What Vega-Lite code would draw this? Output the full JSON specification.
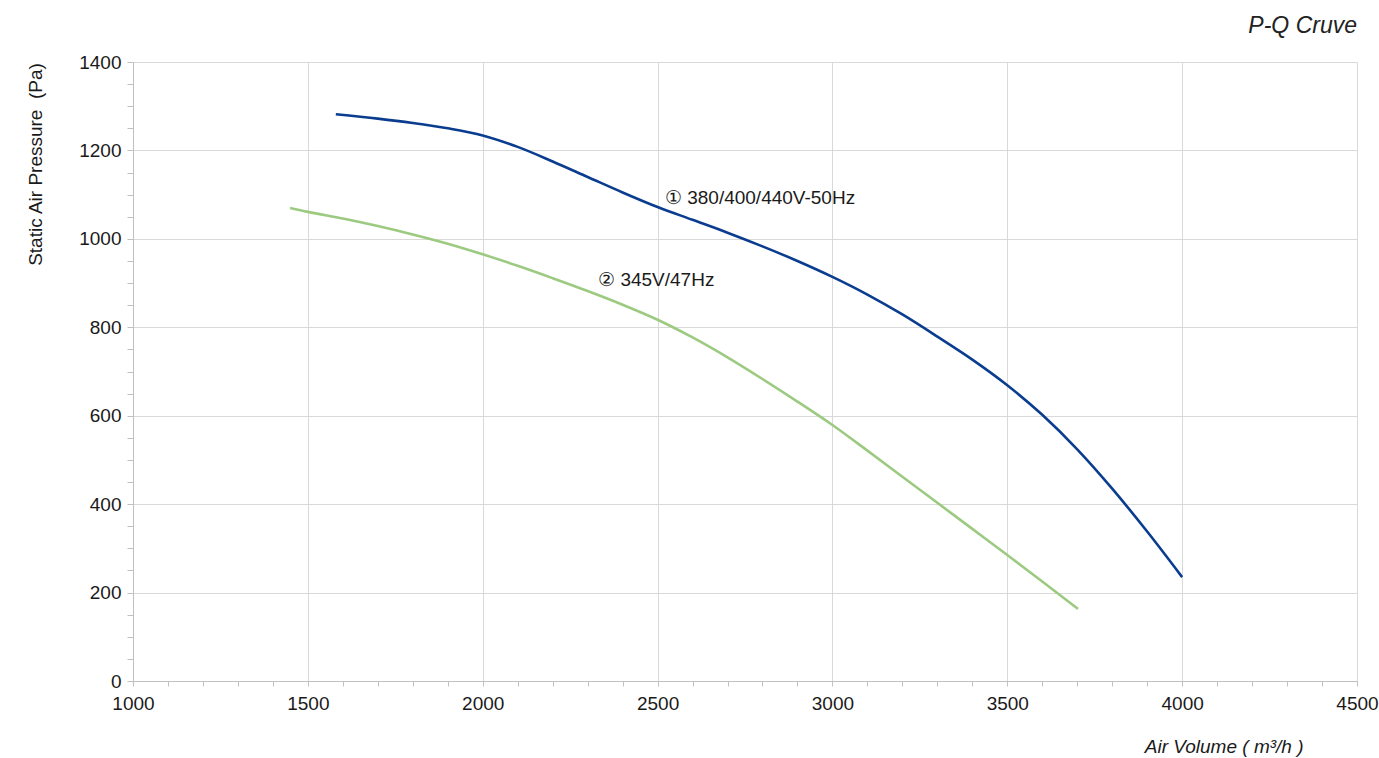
{
  "$schema": "https://vega.github.io/schema/vega-lite/v6.json",
  "width": 1224,
  "height": 619,
  "autosize": {"type": "none"},
  "padding": {"left": 133, "top": 62, "right": 22, "bottom": 77},
  "background": "white",
  "config": {
    "view": {"stroke": null},
    "font": "Liberation Sans"
  },
  "title": {
    "text": "P-Q Cruve",
    "anchor": "end",
    "frame": "group",
    "fontStyle": "italic",
    "fontWeight": "normal",
    "fontSize": 23,
    "font": "Liberation Sans",
    "color": "#222222",
    "offset": 15
  },
  "datasets": {
    "curves": [
      {"series": "50Hz", "q": 1580, "p": 1282},
      {"series": "50Hz", "q": 1700, "p": 1272},
      {"series": "50Hz", "q": 1800, "p": 1262},
      {"series": "50Hz", "q": 1900, "p": 1250},
      {"series": "50Hz", "q": 2000, "p": 1234},
      {"series": "50Hz", "q": 2100, "p": 1208},
      {"series": "50Hz", "q": 2200, "p": 1175},
      {"series": "50Hz", "q": 2300, "p": 1140},
      {"series": "50Hz", "q": 2400, "p": 1105},
      {"series": "50Hz", "q": 2500, "p": 1072},
      {"series": "50Hz", "q": 2600, "p": 1043},
      {"series": "50Hz", "q": 2700, "p": 1014},
      {"series": "50Hz", "q": 2800, "p": 983},
      {"series": "50Hz", "q": 2900, "p": 950},
      {"series": "50Hz", "q": 3000, "p": 914},
      {"series": "50Hz", "q": 3100, "p": 874},
      {"series": "50Hz", "q": 3200, "p": 829},
      {"series": "50Hz", "q": 3300, "p": 779},
      {"series": "50Hz", "q": 3400, "p": 727},
      {"series": "50Hz", "q": 3500, "p": 669},
      {"series": "50Hz", "q": 3600, "p": 602},
      {"series": "50Hz", "q": 3700, "p": 524},
      {"series": "50Hz", "q": 3800, "p": 435},
      {"series": "50Hz", "q": 3900, "p": 338},
      {"series": "50Hz", "q": 4000, "p": 235},
      {"series": "47Hz", "q": 1449, "p": 1070},
      {"series": "47Hz", "q": 1500, "p": 1061},
      {"series": "47Hz", "q": 1600, "p": 1046},
      {"series": "47Hz", "q": 1700, "p": 1029},
      {"series": "47Hz", "q": 1800, "p": 1010},
      {"series": "47Hz", "q": 1900, "p": 989},
      {"series": "47Hz", "q": 2000, "p": 965},
      {"series": "47Hz", "q": 2100, "p": 939},
      {"series": "47Hz", "q": 2200, "p": 911},
      {"series": "47Hz", "q": 2300, "p": 882},
      {"series": "47Hz", "q": 2400, "p": 851},
      {"series": "47Hz", "q": 2500, "p": 817},
      {"series": "47Hz", "q": 2600, "p": 777},
      {"series": "47Hz", "q": 2700, "p": 732},
      {"series": "47Hz", "q": 2800, "p": 683},
      {"series": "47Hz", "q": 2900, "p": 632},
      {"series": "47Hz", "q": 3000, "p": 579},
      {"series": "47Hz", "q": 3100, "p": 521},
      {"series": "47Hz", "q": 3200, "p": 462},
      {"series": "47Hz", "q": 3300, "p": 403},
      {"series": "47Hz", "q": 3400, "p": 344},
      {"series": "47Hz", "q": 3500, "p": 285},
      {"series": "47Hz", "q": 3600, "p": 225},
      {"series": "47Hz", "q": 3702, "p": 163}
    ],
    "labels": [
      {"q": 2521, "p": 1092, "text": "① 380/400/440V-50Hz"},
      {"q": 2330, "p": 907, "text": "② 345V/47Hz"}
    ]
  },
  "layer": [
    {
      "data": {"name": "curves"},
      "mark": {"type": "line", "interpolate": "monotone", "strokeWidth": 2.6},
      "encoding": {
        "x": {
          "field": "q",
          "type": "quantitative",
          "scale": {"domain": [1000, 4500], "nice": false, "zero": false},
          "axis": {
            "values": [1000,1100,1200,1300,1400,1500,1600,1700,1800,1900,2000,2100,2200,2300,2400,2500,2600,2700,2800,2900,3000,3100,3200,3300,3400,3500,3600,3700,3800,3900,4000,4100,4200,4300,4400,4500],
            "tickCount": 200,
            "labelExpr": "datum.value % 500 === 0 ? datum.label : ''",
            "format": "d",
            "labelFlush": false,
            "labelOverlap": false,
            "labelFontSize": 19,
            "labelColor": "#1a1a1a",
            "labelFont": "Liberation Sans",
            "labelPadding": 8,
            "tickSize": 5,
            "tickColor": "#c0c0c0",
            "domainColor": "#c0c0c0",
            "grid": true,
            "gridColor": "#d9d9d9",
            "gridOpacity": {"condition": {"test": "datum.value % 500 === 0", "value": 1}, "value": 0},
            "title": "Air Volume ( m³/h )",
            "titleFont": "Liberation Sans",
            "titleFontStyle": "italic",
            "titleFontWeight": "normal",
            "titleFontSize": 19,
            "titleColor": "#1a1a1a",
            "titleAlign": "right",
            "titleBaseline": "middle",
            "titleX": 1170,
            "titleY": 65
          }
        },
        "y": {
          "field": "p",
          "type": "quantitative",
          "scale": {"domain": [0, 1400], "nice": false},
          "axis": {
            "values": [0,50,100,150,200,250,300,350,400,450,500,550,600,650,700,750,800,850,900,950,1000,1050,1100,1150,1200,1250,1300,1350,1400],
            "tickCount": 200,
            "labelExpr": "datum.value % 200 === 0 ? datum.label : ''",
            "format": "d",
            "labelFlush": false,
            "labelOverlap": false,
            "labelFontSize": 19,
            "labelColor": "#1a1a1a",
            "labelFont": "Liberation Sans",
            "labelPadding": 6,
            "tickSize": 6,
            "tickColor": "#c0c0c0",
            "domainColor": "#c0c0c0",
            "grid": true,
            "gridColor": "#d9d9d9",
            "gridOpacity": {"condition": {"test": "datum.value % 200 === 0", "value": 1}, "value": 0},
            "title": "Static Air Pressure \u00a0(Pa)",
            "titleFont": "Liberation Sans",
            "titleFontWeight": "normal",
            "titleFontSize": 19,
            "titleColor": "#1a1a1a",
            "titleAngle": -90,
            "titleAlign": "center",
            "titleBaseline": "middle",
            "titleX": -98,
            "titleY": 102
          }
        },
        "color": {
          "field": "series",
          "type": "nominal",
          "scale": {"domain": ["50Hz", "47Hz"], "range": ["#0a3d8f", "#9cca80"]},
          "legend": null
        },
        "detail": {"field": "series"}
      }
    },
    {
      "data": {"name": "labels"},
      "mark": {"type": "text", "align": "left", "baseline": "middle", "fontSize": 19, "font": "Liberation Sans", "color": "#1a1a1a"},
      "encoding": {
        "x": {"field": "q", "type": "quantitative"},
        "y": {"field": "p", "type": "quantitative"},
        "text": {"field": "text"}
      }
    }
  ]
}
